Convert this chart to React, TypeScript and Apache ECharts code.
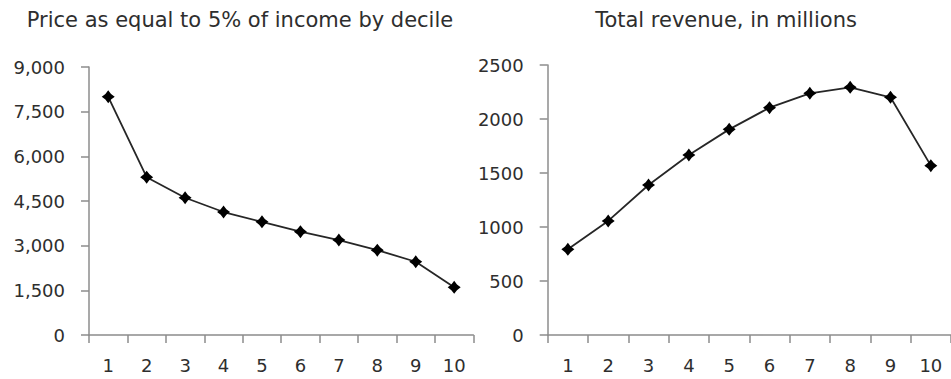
import React, { useEffect, useRef } from "react";
import * as echarts from "echarts";

const deciles = ["1", "2", "3", "4", "5", "6", "7", "8", "9", "10"];
const priceValues = [8000, 5300, 4610, 4130, 3800, 3470, 3190, 2850, 2460, 1600];
const revenueValues = [793, 1056, 1389, 1667, 1904, 2105, 2238, 2293, 2201, 1568];
const leftTitle = "Price as equal to 5% of income by decile";
const rightTitle = "Total revenue, in millions";

const FONT = "DejaVu Sans";
const TEXT = "#2e2e2e";
const AXIS = "#8c8c8c";
const LINE = "#262626";
const MARKER = "path://M0,-6 L2.6,-2.6 L6,0 L2.6,2.6 L0,6 L-2.6,2.6 L-6,0 L-2.6,-2.6Z";

export default function App() {
  const ref = useRef<HTMLDivElement>(null);
  useEffect(() => {
    if (!ref.current) return;
    const chart = echarts.init(ref.current, null, { renderer: "svg" });
    const xAxisCommon = {
      type: "category" as const,
      data: deciles,
      boundaryGap: true,
      axisLine: { lineStyle: { color: AXIS, width: 1.5 } },
      axisTick: { show: true, length: 8, alignWithLabel: false, lineStyle: { color: AXIS, width: 1.5 } },
      axisLabel: { color: TEXT, fontFamily: FONT, fontSize: 18, margin: 21, interval: 0 },
      splitLine: { show: false },
    };
    const yAxisCommon = {
      type: "value" as const,
      axisLine: { show: true, lineStyle: { color: AXIS, width: 1.5 } },
      axisTick: { show: true, length: 8, lineStyle: { color: AXIS, width: 1.5 } },
      splitLine: { show: false },
    };
    chart.setOption({
      animation: false,
      backgroundColor: "#ffffff",
      title: [
        {
          text: leftTitle,
          left: 240,
          top: 9,
          padding: 0,
          textAlign: "center",
          textStyle: { color: TEXT, fontFamily: FONT, fontSize: 21, fontWeight: "normal" },
        },
        {
          text: rightTitle,
          left: 726,
          top: 9,
          padding: 0,
          textAlign: "center",
          textStyle: { color: TEXT, fontFamily: FONT, fontSize: 21, fontWeight: "normal" },
        },
      ],
      grid: [
        { left: 89, top: 67, width: 384.4, height: 268, containLabel: false },
        { left: 547.7, top: 65, width: 408, height: 270, containLabel: false },
      ],
      xAxis: [
        { ...xAxisCommon, gridIndex: 0 },
        { ...xAxisCommon, gridIndex: 1 },
      ],
      yAxis: [
        {
          ...yAxisCommon,
          gridIndex: 0,
          min: 0,
          max: 9000,
          interval: 1500,
          axisLabel: {
            color: TEXT,
            fontFamily: FONT,
            fontSize: 18,
            margin: 24,
            formatter: (v: number) => v.toLocaleString("en-US"),
          },
        },
        {
          ...yAxisCommon,
          gridIndex: 1,
          min: 0,
          max: 2500,
          interval: 500,
          axisLabel: {
            color: TEXT,
            fontFamily: FONT,
            fontSize: 18,
            margin: 24,
            formatter: (v: number) => String(v),
          },
        },
      ],
      series: [
        {
          type: "line",
          xAxisIndex: 0,
          yAxisIndex: 0,
          data: priceValues,
          symbol: MARKER,
          symbolSize: 13,
          itemStyle: { color: "#000000" },
          lineStyle: { color: LINE, width: 1.8 },
        },
        {
          type: "line",
          xAxisIndex: 1,
          yAxisIndex: 1,
          data: revenueValues,
          symbol: MARKER,
          symbolSize: 13,
          itemStyle: { color: "#000000" },
          lineStyle: { color: LINE, width: 1.8 },
        },
      ],
    });
    return () => chart.dispose();
  }, []);
  return (
    <div
      ref={ref}
      style={{ position: "fixed", left: 0, top: 0, width: 951, height: 379, background: "#fff" }}
    />
  );
}
